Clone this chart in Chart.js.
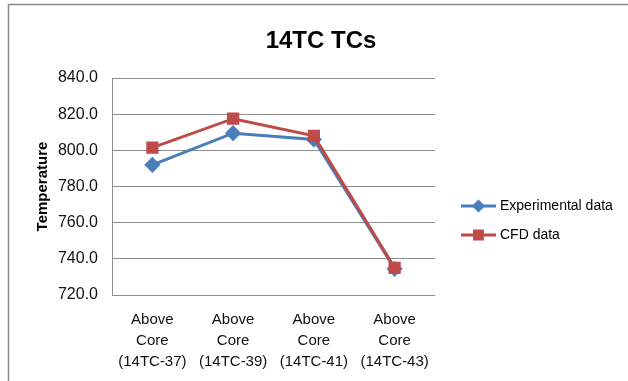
<!DOCTYPE html>
<html>
<head>
<meta charset="utf-8">
<script src="https://cdn.jsdelivr.net/npm/chart.js@4"></script>
<style>
    html, body { margin: 0; padding: 0; background: #fff; }
    canvas { display: block; }
</style>
</head>
<body>
<canvas id="tcChart" width="628" height="381"></canvas>
<script>
//#region Data
const chartTitle = "14TC TCs";
const categories = [
    ["Above", "Core", "(14TC-37)"],
    ["Above", "Core", "(14TC-39)"],
    ["Above", "Core", "(14TC-41)"],
    ["Above", "Core", "(14TC-43)"]
];
const seriesNames = ["Experimental data", "CFD data"];
const experimentalValues = [792, 809.5, 806, 734.5];
const cfdValues = [801.5, 817.5, 808, 735];
const yTicks = [720, 740, 760, 780, 800, 820, 840];
//#endregion

const fontFamily = "'Liberation Sans', Arial, sans-serif";
const gridColor = "#8e8e8e";

//#region Plugins
// outer frame of the chart (only left + top are visible in the crop)
const framePlugin = {
    id: "frame",
    beforeDraw(chart) {
        const ctx = chart.ctx;
        ctx.save();
        ctx.strokeStyle = "#8a8a8a";
        ctx.lineWidth = 1.5;
        ctx.beginPath();
        ctx.moveTo(8.5, chart.height);
        ctx.lineTo(8.5, 4.5);
        ctx.lineTo(chart.width, 4.5);
        ctx.stroke();
        ctx.restore();
    }
};

const titlePlugin = {
    id: "bigTitle",
    afterDraw(chart) {
        const ctx = chart.ctx;
        ctx.save();
        ctx.font = "bold 24px " + fontFamily;
        ctx.fillStyle = "#000";
        ctx.textAlign = "center";
        ctx.textBaseline = "middle";
        ctx.fillText(chartTitle, 321, 41);
        ctx.restore();
    }
};

// Excel style legend: line sample with the marker in the middle
const legendPlugin = {
    id: "sideLegend",
    afterDraw(chart) {
        const ctx = chart.ctx;
        const x0 = 461, x1 = 496, rowY = [206, 235];
        ctx.save();
        chart.data.datasets.forEach((ds, i) => {
            const y = rowY[i];
            ctx.strokeStyle = ds.borderColor;
            ctx.lineWidth = 3;
            ctx.beginPath();
            ctx.moveTo(x0, y);
            ctx.lineTo(x1, y);
            ctx.stroke();
            Chart.helpers.drawPoint(ctx, {
                pointStyle: ds.pointStyle,
                radius: ds.pointStyle === "rect" ? 5.5 : 4.5,
                borderWidth: 1
            }, (x0 + x1) / 2, y);
            ctx.fillStyle = ds.pointBackgroundColor;
            ctx.fill();
            ctx.fillStyle = "#000";
            ctx.font = "14px " + fontFamily;
            ctx.textAlign = "left";
            ctx.textBaseline = "middle";
            ctx.fillText(ds.label, x1 + 4, y);
        });
        ctx.restore();
    }
};
//#endregion

//#region Chart
window.addEventListener("DOMContentLoaded", () => {
    const element = document.querySelector("#tcChart");
    new Chart(element, {
        type: "line",
        data: {
            labels: categories,
            datasets: [{
                label: seriesNames[0],
                data: experimentalValues,
                borderColor: "#4a7ebb",
                backgroundColor: "#4a7ebb",
                pointBackgroundColor: "#4a7ebb",
                pointBorderColor: "#4a7ebb",
                pointStyle: "rectRot",
                pointRadius: 6,
                borderWidth: 3,
                lineTension: 0,
                order: 1
            }, {
                label: seriesNames[1],
                data: cfdValues,
                borderColor: "#be4b48",
                backgroundColor: "#be4b48",
                pointBackgroundColor: "#be4b48",
                pointBorderColor: "#be4b48",
                pointStyle: "rect",
                pointRadius: 6.5,
                borderWidth: 3,
                lineTension: 0,
                order: 0
            }]
        },
        options: {
            responsive: false,
            animation: false,
            layout: {
                padding: { left: 28, top: 78, right: 193, bottom: 0 }
            },
            scales: {
                x: {
                    offset: true,
                    grid: { display: false, drawTicks: false },
                    border: { display: false },
                    ticks: {
                        maxRotation: 0,
                        autoSkip: false,
                        padding: 14,
                        color: "#111",
                        font: { family: fontFamily, size: 15, lineHeight: 1.4 }
                    },
                    afterFit: (scale) => { scale.height = 381 - 295; }
                },
                y: {
                    min: yTicks[0],
                    max: yTicks[yTicks.length - 1],
                    afterBuildTicks: (scale) => { scale.ticks = yTicks.map(v => ({ value: v })); },
                    grid: { color: gridColor, drawTicks: false },
                    border: { display: true, color: gridColor },
                    ticks: {
                        padding: 14,
                        color: "#111",
                        font: { family: fontFamily, size: 16 },
                        callback: (v) => Number(v).toFixed(1)
                    },
                    title: {
                        display: true,
                        text: "Temperature",
                        color: "#000",
                        padding: { top: 6, bottom: 0 },
                        font: { family: fontFamily, size: 15, weight: "bold" }
                    },
                    afterFit: (scale) => { scale.width = 112 - 28; }
                }
            },
            plugins: {
                legend: { display: false },
                tooltip: { enabled: false }
            }
        },
        plugins: [framePlugin, titlePlugin, legendPlugin]
    });
});
//#endregion
</script>
</body>
</html>
